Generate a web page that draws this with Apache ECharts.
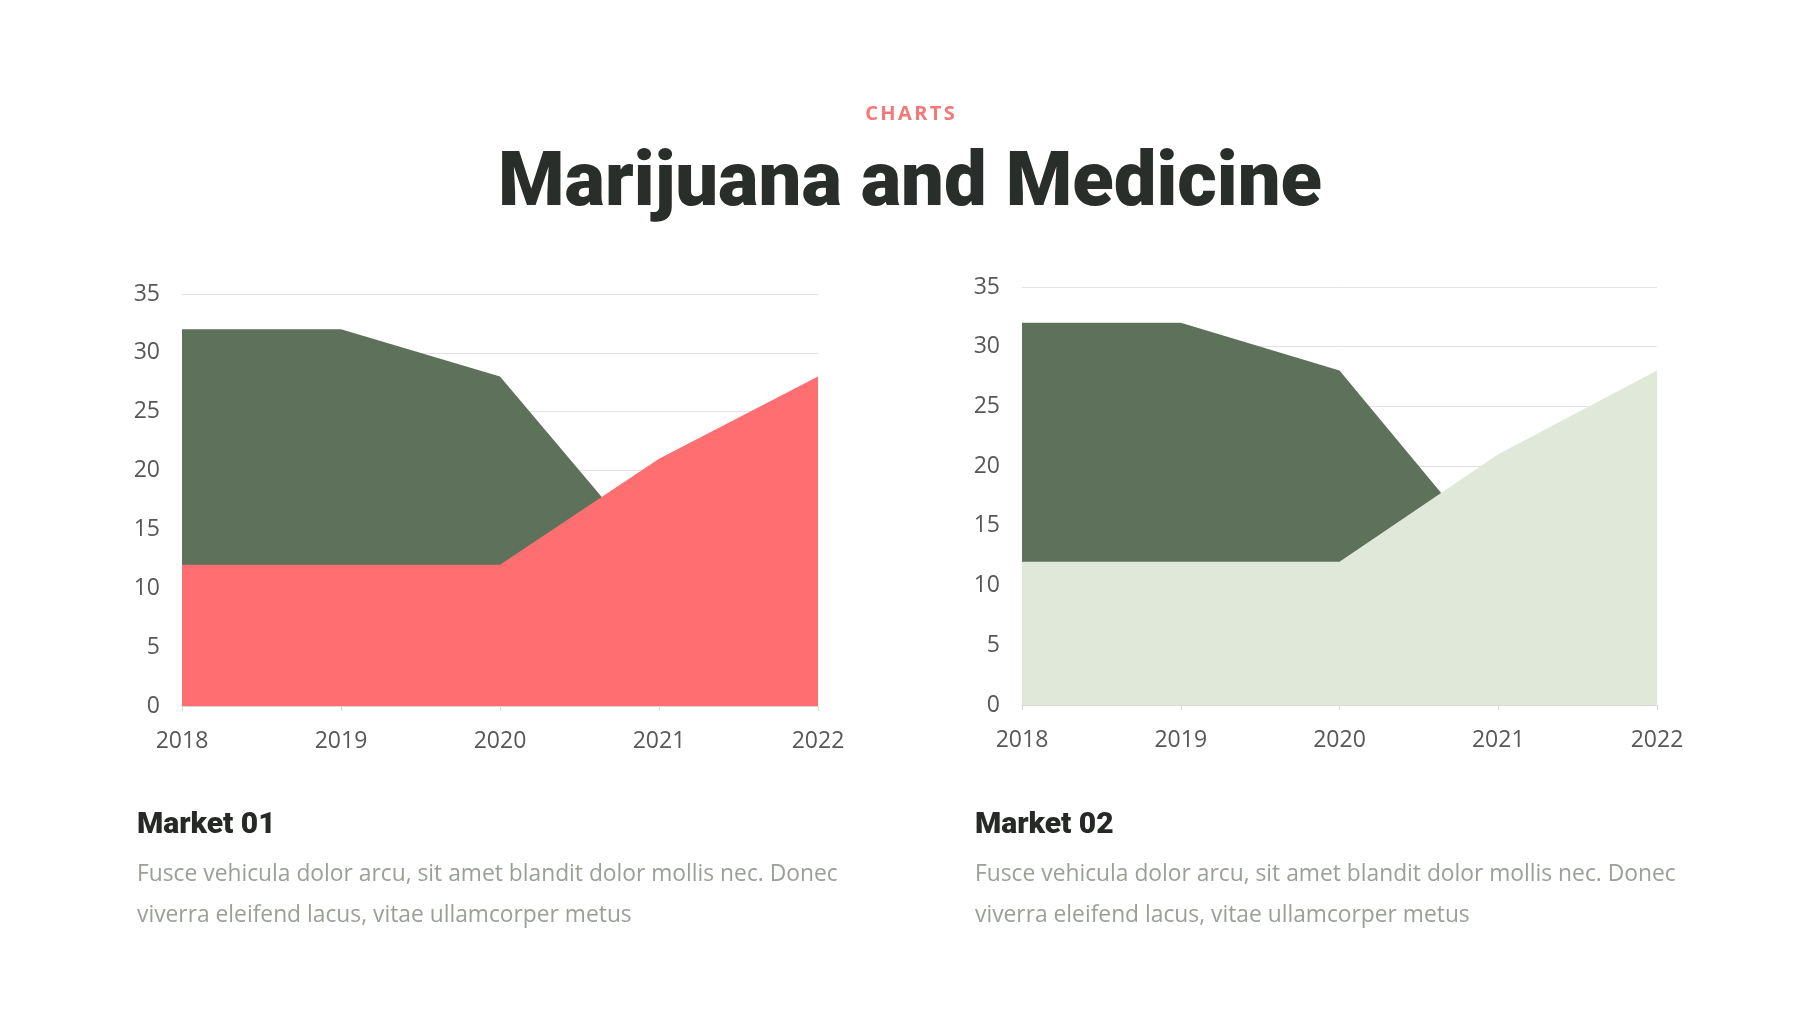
<!DOCTYPE html>
<html>
<head>
<meta charset="utf-8">
<script src="https://cdn.jsdelivr.net/npm/echarts@6/dist/echarts.min.js"></script>
<style>
html,body{margin:0;padding:0;background:#fff;}
#chart{width:1820px;height:1024px;}
</style>
</head>
<body>
<div id="chart"></div>
<script>
// ---- data ----
const categories = ['2018', '2019', '2020', '2021', '2022'];
const market1Back = [32, 32, 28, 12, 12];
const market1Front = [12, 12, 12, 21, 28];
const market2Back = [32, 32, 28, 12, 12];
const market2Front = [12, 12, 12, 21, 28];
const yTicks = { min: 0, max: 35, interval: 5 };

const eyebrow = 'CHARTS';
const mainTitle = 'Marijuana and Medicine';
const panelTitles = ['Market 01', 'Market 02'];
const panelBodyLines = [
  ['Fusce vehicula dolor arcu, sit amet blandit dolor mollis nec. Donec', 'viverra eleifend lacus, vitae ullamcorper metus'],
  ['Fusce vehicula dolor arcu, sit amet blandit dolor mollis nec. Donec', 'viverra eleifend lacus, vitae ullamcorper metus']
];

// ---- styles ----
const GREEN = '#5e715a';
const RED = '#ff6f72';
const PALE = '#e0e8da';
const LABEL = '#575757';

function xAxisCfg(gridIndex) {
  return {
    type: 'category', gridIndex, data: categories, boundaryGap: false,
    axisLine: { show: true, lineStyle: { color: '#d9d9d9', width: 1 } },
    axisTick: { show: true, length: 5, lineStyle: { color: '#d9d9d9' } },
    axisLabel: { color: LABEL, fontFamily: 'Open Sans', fontSize: 23, margin: 24 },
    splitLine: { show: false }
  };
}
function yAxisCfg(gridIndex) {
  return {
    type: 'value', gridIndex, min: yTicks.min, max: yTicks.max, interval: yTicks.interval,
    axisLine: { show: false }, axisTick: { show: false },
    axisLabel: { color: LABEL, fontFamily: 'Open Sans', fontSize: 23, margin: 22, padding: [8, 0, 0, 0] },
    splitLine: { show: true, lineStyle: { color: '#e2e2e2', width: 1 } }
  };
}
function area(name, data, color, idx, z) {
  return {
    name, type: 'line', data, xAxisIndex: idx, yAxisIndex: idx,
    symbol: 'none', lineStyle: { width: 0 }, areaStyle: { color, opacity: 1 },
    z, silent: true, animation: false
  };
}

// letter-spaced eyebrow, each letter placed after measuring
const eyebrowFont = 'bold 20px "Open Sans"';
const spacing = 2.4;
const ctx = document.createElement('canvas').getContext('2d');
ctx.font = eyebrowFont;
const widths = eyebrow.split('').map(ch => ctx.measureText(ch).width);
const total = widths.reduce((a, b) => a + b, 0) + spacing * (widths.length - 1);
let cx = 910 - total / 2;
const eyebrowLetters = eyebrow.split('').map((ch, i) => {
  const el = { type: 'text', x: cx, y: 114,
    style: { text: ch, fill: '#f47878', font: eyebrowFont, textVerticalAlign: 'middle' } };
  cx += widths[i] + spacing;
  return el;
});

const graphics = [
  ...eyebrowLetters,
  { type: 'text', left: 'center', top: 148,
    style: { text: mainTitle, fill: '#2a2e2a', font: '900 76px Roboto' } }
];
const panelX = [137, 975];
for (let i = 0; i < 2; i++) {
  graphics.push({ type: 'text', x: panelX[i], y: 825,
    style: { text: panelTitles[i], fill: '#262926', font: '900 30px Roboto', textVerticalAlign: 'middle' } });
  panelBodyLines[i].forEach((line, j) => {
    graphics.push({ type: 'text', x: panelX[i], y: 875 + j * 41,
      style: { text: line, fill: '#9a9f97', font: '22.8px "Open Sans"', textVerticalAlign: 'middle' } });
  });
}

const chart = echarts.init(document.getElementById('chart'));
chart.setOption({
  backgroundColor: '#fff',
  animation: false,
  grid: [
    { left: 182, right: 1002, top: 294, bottom: 318 },
    { left: 1022, right: 163, top: 287, bottom: 319 }
  ],
  xAxis: [xAxisCfg(0), xAxisCfg(1)],
  yAxis: [yAxisCfg(0), yAxisCfg(1)],
  series: [
    area('Market 01 A', market1Back, GREEN, 0, 2),
    area('Market 01 B', market1Front, RED, 0, 3),
    area('Market 02 A', market2Back, GREEN, 1, 2),
    area('Market 02 B', market2Front, PALE, 1, 3)
  ],
  graphic: graphics
});
</script>
</body>
</html>
